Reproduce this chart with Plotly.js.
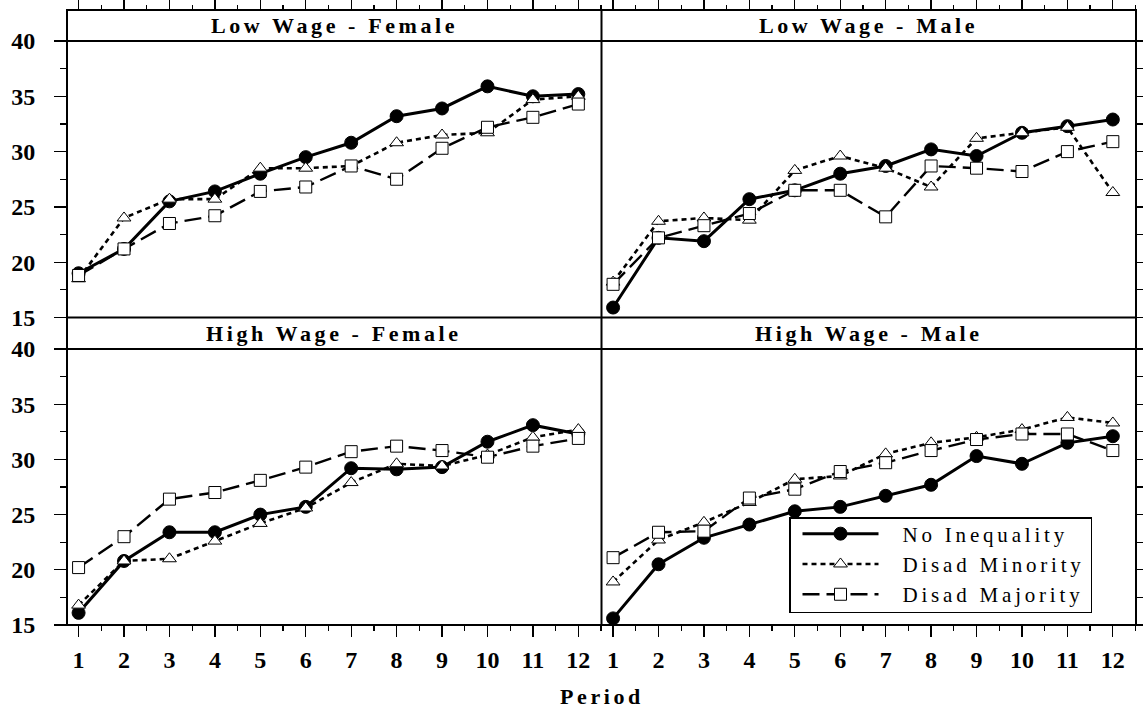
<!DOCTYPE html>
<html>
<head>
<meta charset="utf-8">
<script src="https://cdn.plot.ly/plotly-3.0.1.min.js"></script>
<style>
  html, body { margin: 0; padding: 0; background: #fff; }
  #chart { width: 1143px; height: 713px; }
  .annotation-text { letter-spacing: 3.6px; }
  .legendtext { letter-spacing: 3.8px; }
</style>
</head>
<body>
<div id="chart"></div>
<script>
// ---- data ----
const periods = [1, 2, 3, 4, 5, 6, 7, 8, 9, 10, 11, 12];
const seriesNames = ["No Inequality", "Disad Minority", "Disad Majority"];
const panelTitles = ["Low Wage - Female", "Low Wage - Male", "High Wage - Female", "High Wage - Male"];

// Low Wage - Female
const lwFemaleNone = [19.0, 21.2, 25.5, 26.4, 28.0, 29.5, 30.8, 33.2, 33.9, 35.9, 35.0, 35.2];
const lwFemaleMin  = [18.5, 24.0, 25.7, 25.7, 28.5, 28.5, 28.7, 30.8, 31.5, 31.7, 34.7, 35.0];
const lwFemaleMaj  = [18.8, 21.2, 23.5, 24.2, 26.4, 26.8, 28.7, 27.5, 30.3, 32.2, 33.1, 34.3];

// Low Wage - Male
const lwMaleNone = [15.9, 22.2, 21.9, 25.7, 26.5, 28.0, 28.7, 30.2, 29.6, 31.7, 32.3, 32.9];
const lwMaleMin  = [18.2, 23.7, 24.0, 23.8, 28.3, 29.6, 28.5, 26.8, 31.2, 31.7, 32.2, 26.3];
const lwMaleMaj  = [18.0, 22.2, 23.3, 24.4, 26.5, 26.5, 24.1, 28.7, 28.5, 28.2, 30.0, 30.9];

// High Wage - Female
const hwFemaleNone = [16.1, 20.8, 23.4, 23.4, 25.0, 25.7, 29.2, 29.1, 29.3, 31.6, 33.1, 32.3];
const hwFemaleMin  = [16.8, 20.8, 21.0, 22.6, 24.2, 25.6, 27.9, 29.6, 29.4, 30.4, 32.0, 32.7];
const hwFemaleMaj  = [20.2, 23.0, 26.4, 27.0, 28.1, 29.3, 30.7, 31.2, 30.8, 30.2, 31.2, 31.9];

// High Wage - Male
const hwMaleNone = [15.6, 20.5, 22.9, 24.1, 25.3, 25.7, 26.7, 27.7, 30.3, 29.6, 31.5, 32.1];
const hwMaleMin  = [18.9, 22.7, 24.3, 26.1, 28.2, 28.5, 30.5, 31.5, 32.0, 32.7, 33.8, 33.3];
const hwMaleMaj  = [21.1, 23.4, 23.5, 26.5, 27.3, 28.9, 29.7, 30.8, 31.8, 32.3, 32.3, 30.8];

const yTickVals = [15, 20, 25, 30, 35, 40];
const yTickText = ["15", "20", "25", "30", "35", "40"];

// ---- styling ----
const SERIF = "'Liberation Serif', 'Times New Roman', Times, serif";
const styles = [
  { line: { color: "#000", width: 3, dash: "solid" },
    marker: { symbol: "circle", size: 13, color: "#000", line: { color: "#000", width: 1 } } },
  { line: { color: "#000", width: 2.6, dash: "5px,4px" },
    marker: { symbol: "triangle-up", size: 12, color: "#fff", line: { color: "#000", width: 1 } } },
  { line: { color: "#000", width: 2.4, dash: "17px,7px" },
    marker: { symbol: "square", size: 12, color: "#fff", line: { color: "#000", width: 1 } } }
];

const panels = [
  { xa: "x",  ya: "y",  data: [lwFemaleNone, lwFemaleMin, lwFemaleMaj] },
  { xa: "x2", ya: "y2", data: [lwMaleNone, lwMaleMin, lwMaleMaj] },
  { xa: "x3", ya: "y3", data: [hwFemaleNone, hwFemaleMin, hwFemaleMaj] },
  { xa: "x4", ya: "y4", data: [hwMaleNone, hwMaleMin, hwMaleMaj] }
];

const traces = [];
panels.forEach((p, pi) => {
  p.data.forEach((vals, si) => {
    traces.push({
      type: "scatter", mode: "lines+markers",
      x: periods, y: vals, xaxis: p.xa, yaxis: p.ya,
      name: seriesNames[si],
      legendgroup: seriesNames[si],
      showlegend: pi === 3,
      line: styles[si].line, marker: styles[si].marker,
      cliponaxis: false,
      hoverinfo: "x+y+name"
    });
  });
});

const XR = [0.745, 12.51];
const YR = [15, 40];
const tickFont = { family: SERIF, size: 24, color: "#000", weight: 700 };

function xAxis(domain, anchor, top) {
  const a = {
    domain: domain, range: XR, anchor: anchor,
    showgrid: false, zeroline: false, showline: false,
    tickmode: "array", tickvals: periods, ticktext: periods.map(String),
    ticks: "outside", ticklen: 11, tickwidth: 1.3, tickcolor: "#000",
    minor: { dtick: 0.5, tick0: 0.5, ticks: "outside", ticklen: 5, tickwidth: 1.3, tickcolor: "#000" },
    tickfont: tickFont, fixedrange: true
  };
  if (top) {
    a.side = "top"; a.anchor = "free"; a.position = 1; a.showticklabels = false;
  } else {
    a.side = "bottom"; a.ticklabelstandoff = 2;
  }
  return a;
}
function yAxis(domain, anchor, right) {
  return {
    domain: domain, range: YR, anchor: anchor,
    side: right ? "right" : "left",
    showgrid: false, zeroline: false, showline: false,
    tickmode: "array", tickvals: yTickVals, ticktext: yTickText,
    showticklabels: !right,
    ticks: "outside", ticklen: 12, tickwidth: 1.3, tickcolor: "#000",
    minor: { dtick: 2.5, tick0: 0, ticks: "outside", ticklen: 6, tickwidth: 1.3, tickcolor: "#000" },
    tickfont: tickFont, ticklabelstandoff: 14, fixedrange: true
  };
}

const XL = [0, 0.5], XRT = [0.5, 1];
const YT = [0.5, 0.9496], YB = [0, 0.4488];
const stripTopA = 1, stripTopB = 0.9496;
const stripBotA = 0.5, stripBotB = 0.4488;

const lineStyle = { color: "#000", width: 2 };
const shapes = [
  { type: "rect", xref: "paper", yref: "paper", x0: 0, x1: 1, y0: 0, y1: 1, line: lineStyle, layer: "above" },
  { type: "line", xref: "paper", yref: "paper", x0: 0.5, x1: 0.5, y0: 0, y1: 1, line: lineStyle, layer: "above" },
  { type: "line", xref: "paper", yref: "paper", x0: 0, x1: 1, y0: stripTopB, y1: stripTopB, line: lineStyle, layer: "above" },
  { type: "line", xref: "paper", yref: "paper", x0: 0, x1: 1, y0: stripBotA, y1: stripBotA, line: lineStyle, layer: "above" },
  { type: "line", xref: "paper", yref: "paper", x0: 0, x1: 1, y0: stripBotB, y1: stripBotB, line: lineStyle, layer: "above" }
];

const titleFont = { family: SERIF, size: 22, color: "#000", weight: 700 };
const annotations = [
  { text: panelTitles[0], x: 0.25, y: (stripTopA + stripTopB) / 2 },
  { text: panelTitles[1], x: 0.75, y: (stripTopA + stripTopB) / 2 },
  { text: panelTitles[2], x: 0.25, y: (stripBotA + stripBotB) / 2 },
  { text: panelTitles[3], x: 0.75, y: (stripBotA + stripBotB) / 2 }
].map(a => Object.assign({ xref: "paper", yref: "paper", xanchor: "center", yanchor: "middle",
  showarrow: false, font: titleFont }, a));
annotations.push({ text: "Period", xref: "paper", yref: "paper", x: 0.5, y: -0.117,
  xanchor: "center", yanchor: "middle", showarrow: false, font: titleFont });

const layout = {
  width: 1143, height: 713,
  margin: { l: 67, r: 7, t: 10, b: 88, pad: 0 },
  paper_bgcolor: "#fff", plot_bgcolor: "#fff",
  font: { family: SERIF, color: "#000" },
  showlegend: true,
  legend: {
    x: 0.6754, y: 0.1756, xanchor: "left", yanchor: "top",
    bgcolor: "#fff", bordercolor: "#000", borderwidth: 1.5,
    font: { family: SERIF, size: 21, color: "#000" },
    itemwidth: 102, tracegroupgap: 0, traceorder: "normal"
  },
  xaxis: xAxis(XL, "y", true),
  xaxis2: xAxis(XRT, "y2", true),
  xaxis3: xAxis(XL, "y3", false),
  xaxis4: xAxis(XRT, "y4", false),
  yaxis: yAxis(YT, "x", false),
  yaxis2: yAxis(YT, "x2", true),
  yaxis3: yAxis(YB, "x3", false),
  yaxis4: yAxis(YB, "x4", true),
  shapes: shapes,
  annotations: annotations
};

Plotly.newPlot("chart", traces, layout, { displayModeBar: false, staticPlot: true }).then(gd => {
  // key samples: line 802-878 with marker at its centre, rows slightly tighter as in the reference
  const dy = -5;
  gd.querySelectorAll(".legend .traces").forEach(tr => {
    tr.querySelectorAll(".legendlines path").forEach(p => p.setAttribute("d", "M12,0h76"));
    tr.querySelectorAll(".legendpoints path").forEach(p => p.setAttribute("transform", "translate(50,0)"));
    const t = tr.getAttribute("transform") || "";
    const m = t.match(/translate\(\s*([-\d.]+)[ ,]+([-\d.]+)\s*\)/);
    if (m) tr.setAttribute("transform", "translate(" + m[1] + "," + (parseFloat(m[2]) + dy) + ")");
  });
  const bg = gd.querySelector(".legend rect.bg");
  if (bg) {
    const h = parseFloat(bg.getAttribute("height"));
    if (!isNaN(h)) bg.setAttribute("height", h - 8);
  }
});
</script>
</body>
</html>
